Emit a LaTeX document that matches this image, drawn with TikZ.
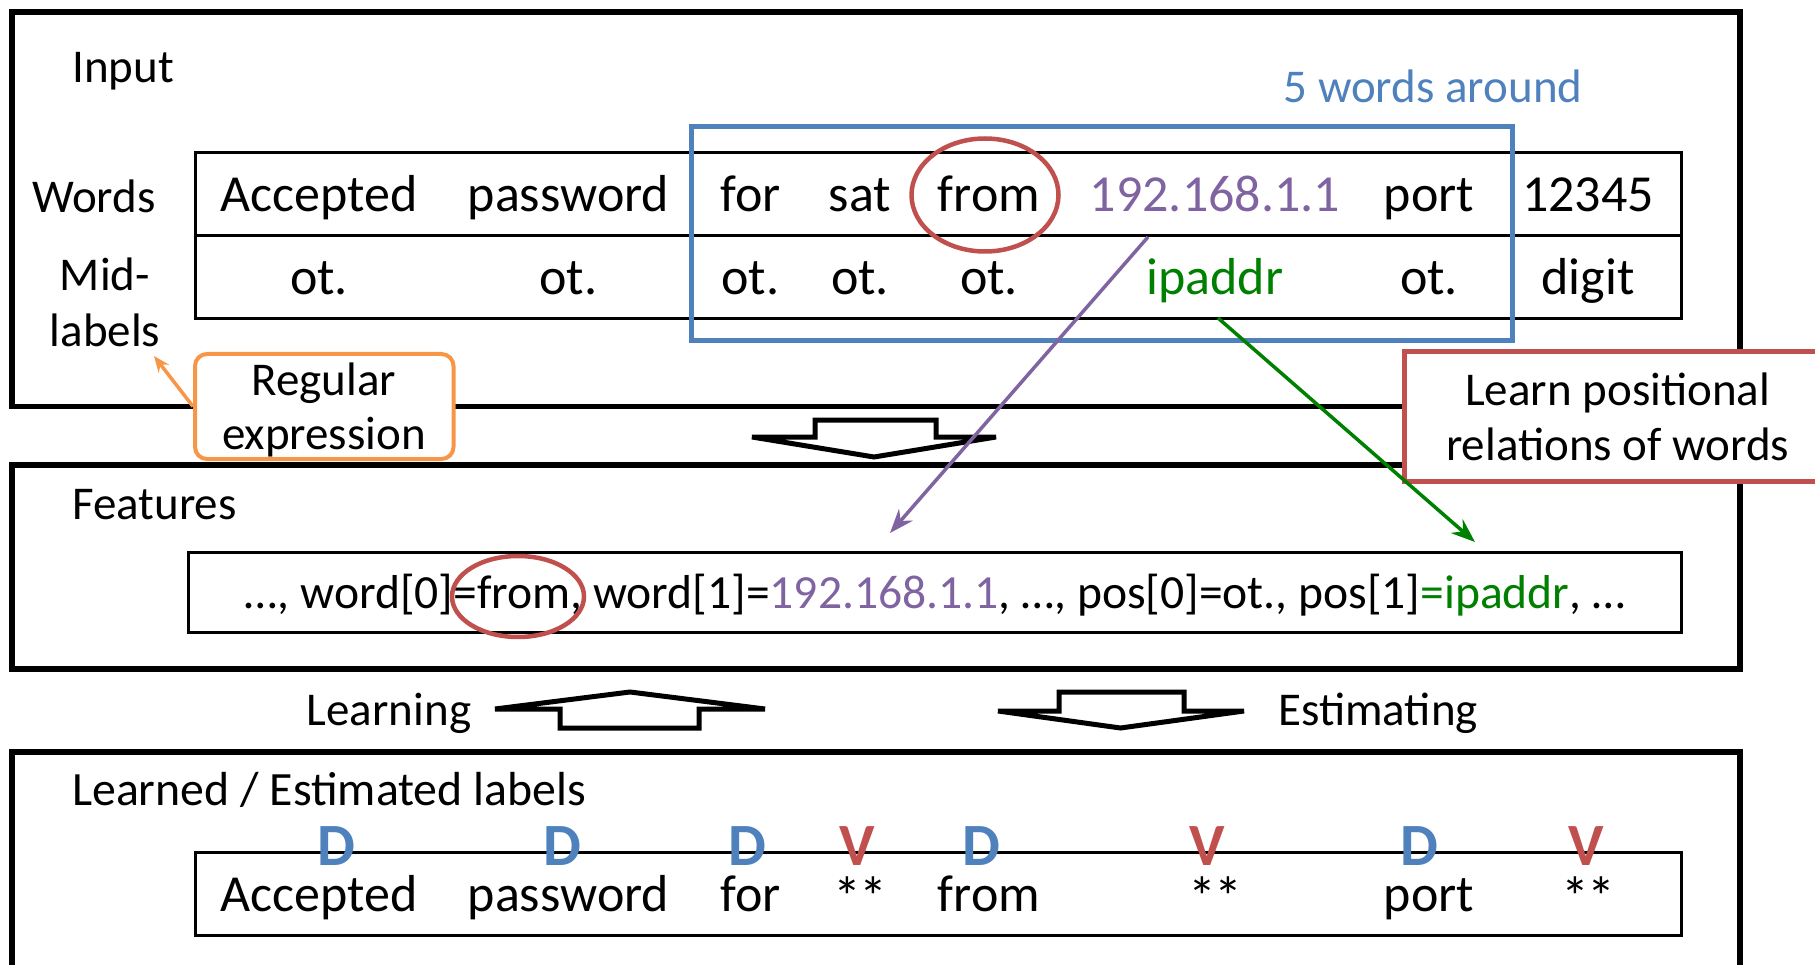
\documentclass[tikz,border=0pt]{standalone}
\usepackage{fontspec}
\setmainfont{Carlito}
\usetikzlibrary{arrows.meta}
\definecolor{oblue}{HTML}{4F81BD}
\definecolor{ored}{HTML}{C0504D}
\definecolor{oorange}{HTML}{F79646}
\definecolor{opurple}{HTML}{8064A2}
\definecolor{ogreen}{HTML}{008000}
\begin{document}
\begin{tikzpicture}[x=1pt,y=-1pt,
  panel/.style={draw=black, line width=5.5pt},
  tbl/.style={draw=black, line width=3pt, inner sep=0pt},
  hd/.style={inner sep=0pt, anchor=base, font=\fontsize{47}{55}\selectfont},
  wd/.style={inner sep=0pt, anchor=base, font=\fontsize{52}{60}\selectfont},
  ft/.style={inner sep=0pt, anchor=base, font=\fontsize{47.6}{55}\selectfont},
  lbD/.style={inner sep=0pt, anchor=base, text=oblue, font=\fontsize{60}{60}\selectfont\bfseries},
  lbV/.style={lbD, text=ored},
  hollow/.style={draw=black, fill=white, line width=5pt, line join=miter},
  conn/.style={line width=3.5pt, -{Stealth[length=24pt, width=18pt]}},
]
\useasboundingbox (0,0) rectangle (1815,965);
\clip (0,0) rectangle (1815,965);

% ---------- panels ----------
\draw[panel] (12,12) rectangle (1740,406.5);
\draw[panel] (12,465) rectangle (1740,669);
\draw[panel] (12,752) rectangle (1740,1000);

% ---------- Input panel ----------
\node[hd, anchor=base west] (input) at (72,83) {Input};
\node[hd, text=oblue] (around) at (1433,102.7) {5 words around};
\node[hd] (wordslbl) at (94,213) {Words};
\node[hd, align=center, font=\fontsize{47}{55.7}\selectfont] (midlbl) at (105,346.7) {Mid-\\labels};

\node[tbl, minimum width=1486pt, minimum height=166.3pt] (wtbl) at (938.75,235.85) {};
\draw[line width=3pt] (wtbl.west) -- (wtbl.east);

\node[wd] (w1) at (319,211.7) {Accepted};
\node[wd] (w2) at (568.5,211.7) {password};
\node[wd] (w3) at (750.5,211.7) {for};
\node[wd] (w4) at (860,211.7) {sat};
\node[wd] (w5) at (989,211.7) {from};
\node[wd, text=opurple] (w6) at (1215,211.7) {192.168.1.1};
\node[wd] (w7) at (1429,211.7) {port};
\node[wd] (w8) at (1588,211.7) {12345};

\node[wd] (m1) at (319,295) {ot.};
\node[wd] (m2) at (568.5,295) {ot.};
\node[wd] (m3) at (750.5,295) {ot.};
\node[wd] (m4) at (860,295) {ot.};
\node[wd] (m5) at (989,295) {ot.};
\node[wd, text=ogreen] (m6) at (1215,295) {ipaddr};
\node[wd] (m7) at (1429,295) {ot.};
\node[wd] (m8) at (1588,295) {digit};

\node[draw=oblue, line width=4.5pt, inner sep=0pt, minimum width=821pt, minimum height=214pt] (window) at (1102.15,233.7) {};
\draw[ored, line width=4.5pt] (985,195) ellipse [x radius=73.5, y radius=56.5];

% regular expression callout
\node[draw=oorange, fill=white, line width=4pt, rounded corners=12pt, inner sep=0pt,
      minimum width=258.5pt, minimum height=105pt] (regex) at (324.25,406.5) {};
\node[hd, align=center, font=\fontsize{47}{54}\selectfont] (regextext) at (324,449) {Regular\\expression};
\coordinate (labtip) at (154,356);
\draw[oorange, line width=3.5pt, -{Stealth[length=16pt, width=13pt]}] (regex.west) -- (labtip);

% learn positional relations callout
\node[draw=ored, fill=white, line width=4.5pt, inner sep=0pt, minimum width=426pt,
      minimum height=130pt, align=center, font=\fontsize{47}{55}\selectfont]
      (learnbox) at (1617.7,416.7) {Learn positional\\relations of words};

% hollow arrow Input -> Features
\draw[hollow] (815,420) -- (936,420) -- (936,437) -- (996,437) -- (874,457)
  -- (752,437) -- (815,437) -- cycle;

% ---------- Features panel ----------
\node[hd, anchor=base west] (features) at (72,519.3) {Features};
\node[tbl, minimum width=1493.5pt, minimum height=79.6pt] (ftbl) at (935.05,592.5) {};
\node[ft] (ftext) at (935,608) {…, word[0]=from, word[1]=\textcolor{opurple}{192.168.1.1}, …, pos[0]=ot., pos[1]\textcolor{ogreen}{=ipaddr}, …};
\draw[ored, line width=4.5pt] (518,596.5) ellipse [x radius=66, y radius=40.5];

% ---------- Learning / Estimating ----------
\node[hd] (learning) at (389,725) {Learning};
\draw[hollow] (630,692) -- (765,709) -- (699,709) -- (699,728) -- (560,728)
  -- (560,709) -- (495,709) -- cycle;
\node[hd] (estimating) at (1378,725) {Estimating};
\draw[hollow] (1059,692) -- (1184,692) -- (1184,711) -- (1244,711) -- (1120.5,728)
  -- (998,711) -- (1059,711) -- cycle;

% ---------- Labels panel ----------
\node[hd, anchor=base west, font=\fontsize{47.8}{55}\selectfont] (learned) at (72,805.7) {Learned / Estimated labels};
\node[tbl, minimum width=1486.8pt, minimum height=83.4pt] (ltbl) at (938.4,894) {};

\node[wd] (b1) at (319,911.7) {Accepted};
\node[wd] (b2) at (568.5,911.7) {password};
\node[wd] (b3) at (750.5,911.7) {for};
\node[wd, font=\fontsize{56}{60}\selectfont] (b4) at (860,916) {*\kern-2pt*};
\node[wd] (b5) at (989,911.7) {from};
\node[wd, font=\fontsize{56}{60}\selectfont] (b6) at (1215,916) {*\kern-2pt*};
\node[wd] (b7) at (1429,911.7) {port};
\node[wd, font=\fontsize{56}{60}\selectfont] (b8) at (1588,916) {*\kern-2pt*};

\node[lbD] (l1) at (336.5,865) {D};
\node[lbD] (l2) at (562.7,865) {D};
\node[lbD] (l3) at (747,865) {D};
\node[lbV] (l4) at (857,865) {V};
\node[lbD] (l5) at (981.6,865) {D};
\node[lbV] (l6) at (1207,865) {V};
\node[lbD] (l7) at (1419,865) {D};
\node[lbV] (l8) at (1586,865) {V};

% ---------- connectors ----------
\coordinate (pstart) at (1148,237);
\coordinate (pend) at (890,533);
\draw[conn, opurple] (pstart) -- (pend);
\coordinate (gstart) at (1218,318);
\coordinate (gend) at (1475,542);
\draw[conn, ogreen] (gstart) -- (gend);
\end{tikzpicture}
\end{document}
